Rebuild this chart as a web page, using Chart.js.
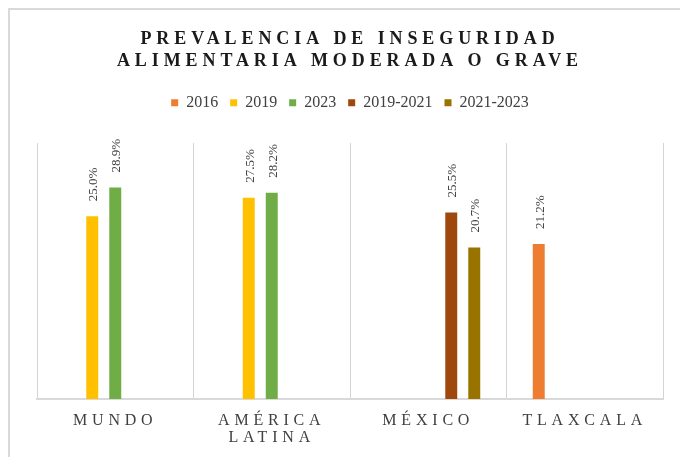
<!DOCTYPE html>
<html>
<head>
<meta charset="utf-8">
<script src="https://cdn.jsdelivr.net/npm/chart.js@4.4.1/dist/chart.umd.min.js"></script>
<style>
  html, body { margin: 0; padding: 0; background: #ffffff; overflow: hidden; }
  #c { position: absolute; left: 0; top: 0; }
</style>
</head>
<body>
<canvas id="c" width="680" height="457"></canvas>
<script>
// ---- data ----
const categories = ['MUNDO', ['AMÉRICA', 'LATINA'], 'MÉXICO', 'TLAXCALA'];
const seriesNames = ['2016', '2019', '2023', '2019-2021', '2021-2023'];
const values2016 = [null, null, null, 21.2];
const values2019 = [25.0, 27.5, null, null];
const values2023 = [28.9, 28.2, null, null];
const values2019_2021 = [null, null, 25.5, null];
const values2021_2023 = [null, null, 20.7, null];
const titleLines = ['PREVALENCIA DE INSEGURIDAD', 'ALIMENTARIA MODERADA O GRAVE'];

const colors = ['#ED7D31', '#FFC000', '#70AD47', '#9E480E', '#997300'];
const serif = "'Liberation Serif', 'Times New Roman', serif";
const seriesValues = [values2016, values2019, values2023, values2019_2021, values2021_2023];

const datasets = seriesNames.map((name, i) => ({
  label: name,
  data: seriesValues[i],
  backgroundColor: colors[i],
  borderWidth: 0,
  categoryPercentage: 0.735,
  barPercentage: 0.52
}));

// chart frame (left and top edges visible)
const framePlugin = {
  id: 'frame',
  beforeDraw(chart) {
    const ctx = chart.ctx;
    ctx.save();
    ctx.strokeStyle = '#d9d9d9';
    ctx.lineWidth = 2;
    ctx.beginPath();
    ctx.moveTo(9, chart.height);
    ctx.lineTo(9, 9);
    ctx.lineTo(chart.width, 9);
    ctx.stroke();
    ctx.restore();
  }
};

// letter spacing for title and x labels
const spacingPlugin = {
  id: 'spacing',
  beforeDraw(chart) {
    const ctx = chart.ctx;
    const tb = chart.titleBlock;
    if (tb && !tb._spaced) {
      const orig = tb.draw.bind(tb);
      tb.draw = function () { ctx.save(); ctx.letterSpacing = '4.9px'; orig(); ctx.restore(); };
      tb._spaced = true;
    }
    const xs = chart.scales.x;
    if (xs && !xs._spaced) {
      const origL = xs.drawLabels.bind(xs);
      xs.drawLabels = function (a) { ctx.save(); ctx.letterSpacing = '4.8px'; origL(a); ctx.restore(); };
      xs._spaced = true;
    }
  }
};

// extra space below legend
const legendGap = {
  id: 'legendGap',
  beforeInit(chart) {
    const fit = chart.legend.fit;
    chart.legend.fit = function () { fit.call(this); this.height += 22.3; };
  }
};

// rotated value labels
const valueLabels = {
  id: 'valueLabels',
  afterDatasetsDraw(chart) {
    const ctx = chart.ctx;
    chart.data.datasets.forEach((ds, di) => {
      const meta = chart.getDatasetMeta(di);
      meta.data.forEach((bar, i) => {
        const v = ds.data[i];
        if (v === null || v === undefined) return;
        ctx.save();
        ctx.translate(bar.x + 1.5, bar.y - 15);
        ctx.rotate(-Math.PI / 2);
        ctx.font = '13px ' + serif;
        ctx.fillStyle = '#404040';
        ctx.textAlign = 'left';
        ctx.textBaseline = 'middle';
        ctx.fillText(v.toFixed(1) + '%', 0, 0);
        ctx.restore();
      });
    });
  }
};

new Chart(document.getElementById('c'), {
  type: 'bar',
  data: { labels: categories, datasets: datasets },
  plugins: [framePlugin, spacingPlugin, legendGap, valueLabels],
  options: {
    responsive: false,
    animation: false,
    devicePixelRatio: 1,
    layout: { padding: { left: 37, right: 17, top: 0, bottom: 10 } },
    plugins: {
      tooltip: { enabled: false },
      title: {
        display: true,
        text: titleLines,
        color: '#1a1a1a',
        font: { family: serif, size: 18, weight: 'bold', lineHeight: 22 / 18 },
        padding: { top: 28, bottom: 10.7 }
      },
      legend: {
        display: true,
        position: 'top',
        labels: {
          boxWidth: 7,
          boxHeight: 7,
          padding: 12,
          color: '#404040',
          font: { family: serif, size: 16 }
        }
      }
    },
    scales: {
      x: {
        offset: true,
        afterFit(scale) { scale.height = 48; },
        grid: { display: true, offset: true, drawTicks: false, color: '#d4d4d4', lineWidth: 1 },
        border: { display: true, color: '#d9d9d9', width: 2 },
        ticks: {
          color: '#404040',
          padding: 12.7,
          maxRotation: 0,
          autoSkip: false,
          font: { family: serif, size: 16, lineHeight: 1.1 }
        }
      },
      y: {
        display: false,
        min: 0,
        max: 35
      }
    }
  }
});
</script>
</body>
</html>
